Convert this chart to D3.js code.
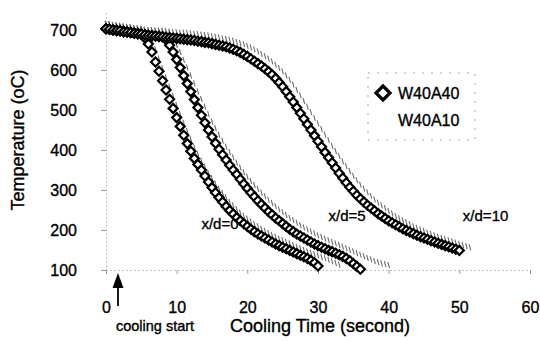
<!DOCTYPE html>
<html><head><meta charset="utf-8">
<script src="https://cdn.jsdelivr.net/npm/d3@7"></script>
<style>
html,body{margin:0;padding:0;background:#fff;}
svg{display:block;font-family:"Liberation Sans",Arial,sans-serif;}
svg text{stroke:#000;stroke-width:0.35px;}
</style></head>
<body><svg id="chart" width="540" height="341"></svg>
<script>
// Sample times (s), shared by all series
const time = [0,0.5,1,1.5,2,2.5,3,3.5,4,4.5,5,5.5,6,6.5,7,7.5,8,8.5,9,9.5,10,10.5,11,11.5,12,12.5,13,13.5,14,14.5,15,15.5,16,16.5,17,17.5,18,18.5,19,19.5,20,20.5,21,21.5,22,22.5,23,23.5,24,24.5,25,25.5,26,26.5,27,27.5,28,28.5,29,29.5,30,30.5,31,31.5,32,32.5,33,33.5,34,34.5,35,35.5,36,36.5,37,37.5,38,38.5,39,39.5,40,40.5,41,41.5,42,42.5,43,43.5,44,44.5,45,45.5,46,46.5,47,47.5,48,48.5,49,49.5,50,50.5,51,51.5];

// W40A40, temperatures (oC)
const w40a40_xd0 = [703,702,700,699,698,696,695,694,692,691,690,680,665,645,620,597,573,550,527,504,481,459,437,416,397,379,364,350,335,320,306,293,281,270,259,249,240,231,223,216,209,202,196,190,185,180,175,170,165,161,157,153,149,145,141,137,133,129,124,118,110];
const w40a40_xd5 = [703,702,700,699,698,696,695,694,692,691,690,688,687,686,685,684,683,676,662,645,626,606,586,566,546,526,506,487,468,450,433,417,402,388,375,362,350,339,327,315,304,293,283,273,264,255,246,238,230,223,216,209,202,196,190,185,180,175,170,165,161,157,153,149,146,142,138,134,129,123,116,109,102];
const w40a40_xd10 = [703,702,700,699,698,696,695,694,692,691,690,688,687,686,685,684,683,682,681,680,679,678,677,676,675,674,672,671,669,668,666,664,662,660,658,655,652,648,644,639,634,628,622,616,610,603,596,588,579,569,558,546,533,520,506,492,478,464,450,436,422,408,394,381,368,355,342,330,318,307,297,287,278,270,262,255,248,241,235,229,223,218,213,208,203,199,195,191,187,183,180,177,173,170,167,164,161,158,155,152,149];

// W40A10, temperatures (oC)
const w40a10_xd0 = [703,702,700,699,698,696,695,694,692,691,690,688,680,662,640,616,592,569,546,523,500,478,456,435,415,396,378,361,346,331,317,304,291,280,269,258,249,240,231,223,216,209,203,197,191,186,180,175,171,166,162,158,154,150,146,142,138,134,131,127,124,120,117,113,109,105,101];
const w40a10_xd5 = [703,702,700,699,698,696,695,694,692,691,690,688,687,687,686,686,685,684,680,665,650,632,613,594,574,554,534,515,496,477,459,442,426,411,396,382,369,356,344,332,321,310,300,290,281,272,263,255,247,239,232,225,218,212,206,200,194,189,184,179,174,170,166,162,158,154,150,146,142,138,134,130,126,122,118,114,110,107,104,102,100];
const w40a10_xd10 = [703,702,700,699,698,696,695,694,692,691,690,688,687,687,686,686,685,684,684,683,682,681,681,680,679,678,677,676,675,674,672,671,669,667,665,663,661,658,655,652,648,644,639,634,628,622,616,609,601,593,584,574,563,551,538,524,510,496,482,468,454,440,426,412,398,385,372,359,347,335,323,312,301,291,282,273,264,256,249,242,235,229,223,217,212,207,202,197,193,189,185,181,178,174,171,168,165,162,159,156,153,150,147,144];

const seriesNames = ["W40A40","W40A10"];
const xTicks = [0,10,20,30,40,50,60];
const yTicks = [100,200,300,400,500,600,700];
const curveLabels = [{text:"x/d=0", t:13.5, T:202}, {text:"x/d=5", t:31.5, T:222}, {text:"x/d=10", t:50.5, T:222}];

const svg = d3.select("#chart");
const x = d3.scaleLinear().domain([0,60]).range([106,530]);
const y = d3.scaleLinear().domain([100,750]).range([270,10]);

// axes
const gx = svg.append("g").attr("transform","translate(0,270)")
  .call(d3.axisBottom(x).tickValues(xTicks).tickSizeInner(4).tickSizeOuter(0).tickPadding(28));
const gy = svg.append("g").attr("transform","translate(106,0)")
  .call(d3.axisLeft(y).tickValues(yTicks).tickSizeInner(5).tickSizeOuter(0).tickPadding(24));
[gx,gy].forEach(g=>{
  g.select(".domain").attr("stroke","#8a8a8a").attr("stroke-width",1).attr("stroke-dasharray","1,3");
  g.selectAll(".tick line").attr("stroke","#999").attr("stroke-width",1);
  g.selectAll(".tick text").attr("fill","#000").style("font-size","16px").style("font-family","'Liberation Sans',Arial,sans-serif");
});

const toPts = arr => arr.map((T,i)=>[time[i],T]);
const grayS = [w40a10_xd0, w40a10_xd5, w40a10_xd10];
const blackS = [w40a40_xd0, w40a40_xd5, w40a40_xd10];

const diamond = r => `M0,${-r}L${r},0L0,${r}L${-r},0Z`;

// W40A10: gray dash markers
grayS.forEach(s=>{
  svg.append("g").selectAll("line").data(toPts(s)).join("line")
    .attr("x1",d=>x(d[0])-0.8).attr("x2",d=>x(d[0])+0.8)
    .attr("y1",d=>y(d[1])-8).attr("y2",d=>y(d[1])-2)
    .attr("stroke","#6e6e6e").attr("stroke-width",1.1);
});
// W40A40: black open diamonds
blackS.forEach(s=>{
  svg.append("g").selectAll("path").data(toPts(s)).join("path")
    .attr("transform",d=>`translate(${x(d[0])},${y(d[1])})`)
    .attr("d",diamond(4.5))
    .attr("fill","#fff").attr("stroke","#000").attr("stroke-width",2.2);
});

// curve labels
svg.append("g").selectAll("text").data(curveLabels).join("text")
  .attr("x",d=>x(d.t)).attr("y",d=>y(d.T))
  .attr("font-size",15).attr("fill","#000").text(d=>d.text);

// legend
const lg = svg.append("g");
lg.append("rect").attr("x",368).attr("y",73).attr("width",107).attr("height",67)
  .attr("fill","none").attr("stroke","#aaa").attr("stroke-dasharray","2,7");
lg.append("path").attr("transform","translate(383,93)").attr("d",diamond(7))
  .attr("fill","#fff").attr("stroke","#000").attr("stroke-width",3.2);
lg.selectAll("text").data(seriesNames).join("text")
  .attr("x",398).attr("y",(d,i)=>99+i*27).attr("font-size",16).attr("fill","#000").text(d=>d);

// axis titles
svg.append("text").attr("transform","translate(24,140) rotate(-90)")
  .attr("text-anchor","middle").attr("font-size",18).attr("fill","#000").text("Temperature (oC)");
svg.append("text").attr("x",320).attr("y",332).attr("text-anchor","middle")
  .attr("font-size",18).attr("fill","#000").text("Cooling Time (second)");
svg.append("text").attr("x",155).attr("y",331).attr("text-anchor","middle")
  .attr("font-size",14.5).attr("fill","#000").text("cooling start");

// arrow marking cooling start
svg.append("line").attr("x1",118).attr("x2",118).attr("y1",306).attr("y2",284)
  .attr("stroke","#000").attr("stroke-width",1.8);
svg.append("path").attr("d","M118,273L112.5,288L123.5,288Z").attr("fill","#000");
</script></body></html>
